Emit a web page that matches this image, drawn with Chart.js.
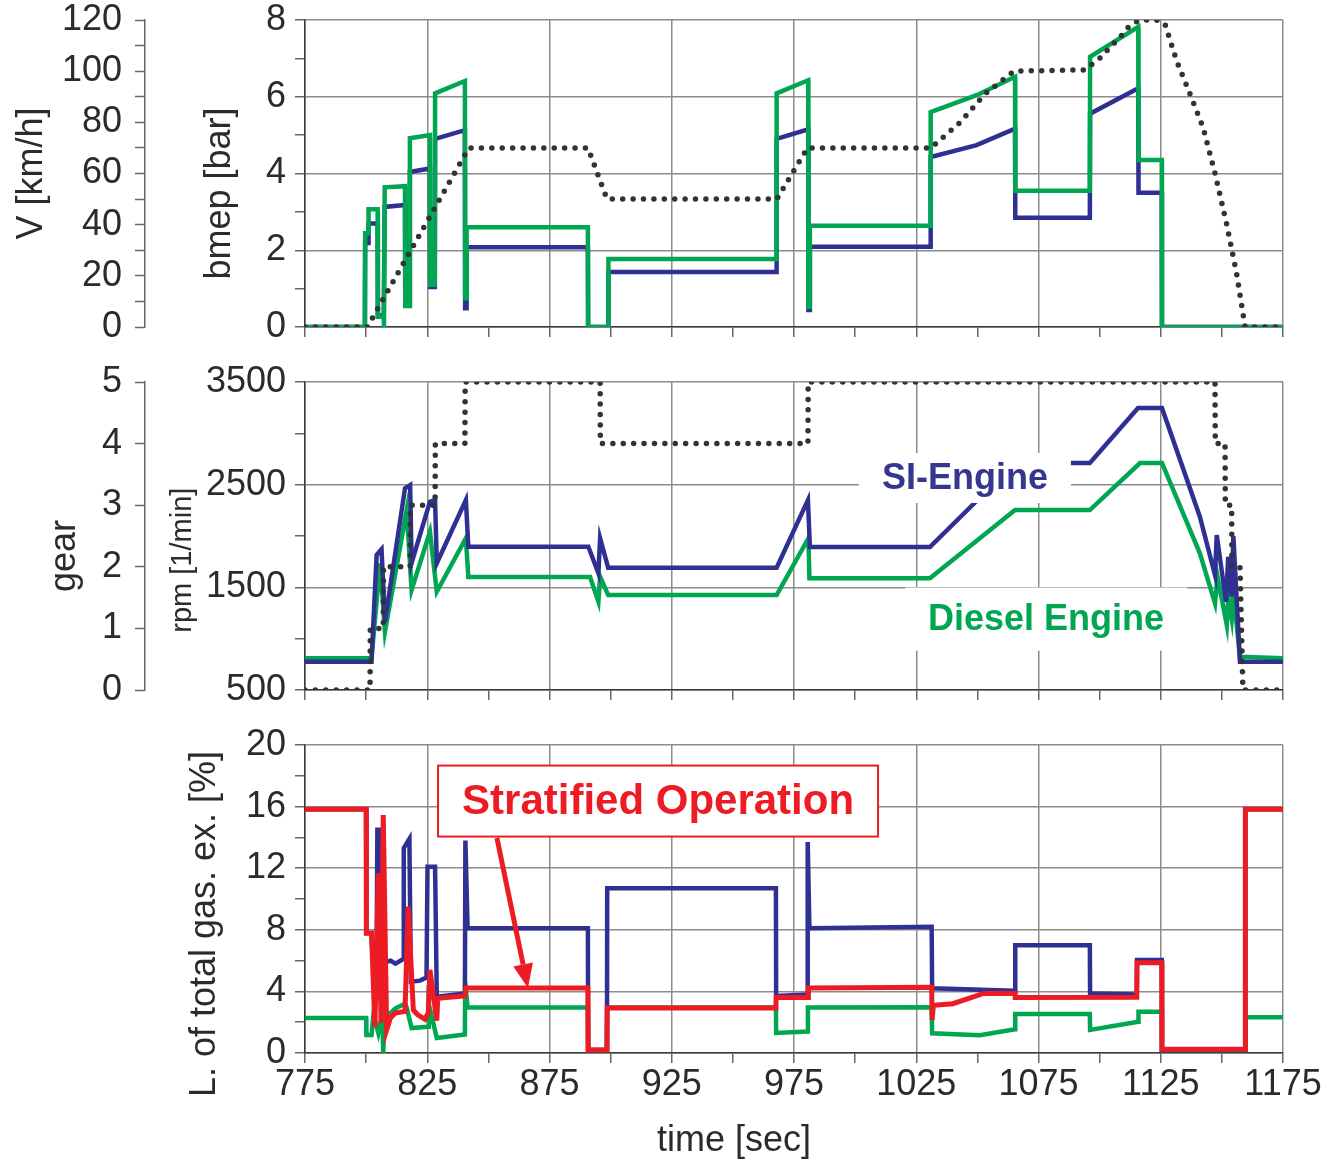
<!DOCTYPE html>
<html>
<head>
<meta charset="utf-8">
<script src="https://cdn.jsdelivr.net/npm/chart.js@4.4.1/dist/chart.umd.min.js"></script>
<style>
  html, body { margin: 0; padding: 0; background: #fff; }
  body { width: 1333px; height: 1163px; position: relative; overflow: hidden; }
  canvas { position: absolute; left: 0; }
</style>
</head>
<body>
<canvas id="panelLoad" width="1333" height="349" style="top:0;width:1333px;height:349px"></canvas>
<canvas id="panelRpm" width="1333" height="363" style="top:349px;width:1333px;height:363px"></canvas>
<canvas id="panelGas" width="1333" height="451" style="top:712px;width:1333px;height:451px"></canvas>
<script>
// ---- tick labels ----
const timeTicks = [775, 825, 875, 925, 975, 1025, 1075, 1125, 1175];
const speedTicks = [0, 20, 40, 60, 80, 100, 120];
const bmepTicks = [0, 2, 4, 6, 8];
const gearTicks = [0, 1, 2, 3, 4, 5];
const rpmTicks = [500, 1500, 2500, 3500];
const gasTicks = [0, 4, 8, 12, 16, 20];

// ---- vehicle speed [km/h] ----
const speedT = [775, 800.5, 842, 890.7, 898.5, 968, 980.5, 1031, 1043, 1053, 1065, 1094, 1100, 1109, 1112.4, 1116.5, 1123.3, 1126.7, 1131.5, 1137, 1142.3, 1147.2, 1152, 1156, 1159.5, 1175];
const speedV = [0, 0, 70, 70, 50, 50, 70, 70, 80, 91, 100, 100.5, 105, 114, 118, 120, 120, 118.5, 104, 91, 78, 60, 40, 21, 0, 0];

// ---- bmep [bar] ----
const bmepT = [775, 799.5, 799.6, 800.9, 801.0, 804.7, 804.8, 807.2, 807.3, 807.6, 815.9, 816.0, 817.8, 817.9, 826.1, 826.2, 828.1, 828.2, 840.4, 840.5, 841.0, 841.1, 890.7, 890.8, 899.0, 899.1, 967.8, 967.9, 980.8, 980.9, 981.4, 981.5, 1030.8, 1030.9, 1049.7, 1065.4, 1065.5, 1096, 1096.1, 1115.8, 1115.9, 1125.4, 1125.5, 1175];
const bmepSI = [0, 0, 2.19, 2.19, 2.7, 2.7, 0.3, 0.3, 0.3, 3.13, 3.18, 0.62, 0.62, 4.04, 4.13, 1.04, 1.04, 4.9, 5.13, 0.49, 0.49, 2.08, 2.08, 0, 0, 1.43, 1.43, 4.9, 5.15, 0.44, 0.44, 2.09, 2.09, 4.43, 4.74, 5.17, 2.85, 2.85, 5.56, 6.22, 3.5, 3.5, 0, 0];
const bmepDiesel = [0, 0, 2.44, 2.44, 3.07, 3.07, 0.27, 0.27, 0, 3.64, 3.67, 0.55, 0.55, 4.92, 5.0, 1.1, 1.1, 6.09, 6.41, 0.75, 0.75, 2.6, 2.6, 0, 0, 1.77, 1.77, 6.09, 6.43, 0.53, 0.53, 2.64, 2.64, 5.6, 6.04, 6.52, 3.55, 3.55, 7.04, 7.82, 4.35, 4.35, 0, 0];

// ---- gear ----
const gearT = [775, 801.6, 801.7, 807, 807.1, 818, 818.1, 828.2, 828.3, 840.4, 840.5, 895.7, 895.8, 980.7, 980.8, 1147.2, 1147.3, 1151.3, 1151.4, 1154, 1154.1, 1157.4, 1158.6, 1175];
const gearV = [0, 0, 1, 1, 2, 2, 3, 3, 4, 4, 5, 5, 4, 4, 5, 5, 4, 4, 3, 3, 2, 2, 0, 0];

// ---- engine speed [1/min] ----
const rpmSIT = [775, 802.2, 804.3, 806.3, 807.7, 815.9, 818, 818.6, 826.1, 828.2, 828.9, 840.8, 841.8, 890.9, 895, 895.7, 899, 967.9, 980.7, 981.5, 1030.6, 1065.4, 1096, 1115.7, 1125.5, 1141, 1147.2, 1147.9, 1151.7, 1152.6, 1154, 1154.7, 1157.4, 1175];
const rpmSI = [775, 775, 1815, 1870, 1165, 2465, 2497, 1737, 2334, 2350, 1734, 2350, 1896, 1896, 1637, 1978, 1691, 1691, 2350, 1893, 1893, 2711, 2711, 3247, 3247, 2188, 1620, 2010, 1360, 1798, 1409, 2000, 776, 776];
const rpmDieselT = [775, 802.2, 805.7, 807.7, 816.6, 818.6, 826.1, 828.9, 840.8, 841.8, 891.6, 895, 895.7, 899, 967.9, 980.9, 981.3, 1030.6, 1065.4, 1096, 1116.5, 1125.5, 1141, 1147.2, 1148.2, 1152, 1152.6, 1154, 1154.7, 1157.4, 1175];
const rpmDiesel = [809, 809, 1734, 1068, 2253, 1474, 2042, 1457, 1978, 1600, 1600, 1360, 1604, 1425, 1425, 1978, 1588, 1588, 2253, 2253, 2711, 2711, 1831, 1344, 1604, 1133, 1400, 1198, 1442, 824, 810];

// ---- share of total gas exchange losses [%] ----
const gasStratT = [775, 800, 800.1, 802.2, 803.6, 805, 806.1, 807, 808.4, 810, 812, 815.9, 817.2, 819.3, 821, 824, 825.4, 826.1, 828.9, 829.3, 840.4, 840.8, 890.7, 890.8, 898.5, 898.6, 967.6, 967.7, 980.8, 980.9, 1031.3, 1031.5, 1032, 1040, 1052.5, 1065.4, 1065.5, 1115.2, 1115.3, 1125.4, 1125.5, 1159.5, 1159.6, 1175];
const gasStrat = [15.82, 15.82, 7.77, 7.77, 1.7, 11.67, 1.95, 15.45, 1.5, 2.3, 2.6, 2.7, 9.5, 2.8, 2.5, 2.2, 2.6, 5.4, 2.1, 3.55, 3.7, 4.22, 4.22, 0.2, 0.2, 2.92, 2.92, 3.6, 3.6, 4.22, 4.27, 2.14, 3.1, 3.2, 3.87, 3.87, 3.6, 3.62, 5.86, 5.86, 0.24, 0.24, 15.82, 15.82];
const gasSIT = [775, 800, 800.1, 802.2, 802.5, 804.3, 804.6, 805.3, 805.6, 808, 810, 812, 815.2, 815.4, 817.7, 818.3, 822, 824.7, 825.1, 828.2, 828.9, 840.4, 840.6, 841.5, 890.7, 890.8, 898.5, 898.6, 967.6, 967.7, 980.5, 980.6, 981.3, 1031.3, 1031.5, 1065.4, 1065.5, 1096, 1096.1, 1115.2, 1115.3, 1125.4, 1125.5, 1159.5, 1159.6, 1175];
const gasSI = [15.82, 15.82, 7.8, 7.8, 6.7, 6.5, 14.5, 14.5, 6.15, 5.9, 6.0, 5.8, 6.1, 13.3, 13.9, 4.63, 4.7, 4.9, 12.1, 12.1, 3.66, 3.87, 13.8, 8.1, 8.1, 0.2, 0.2, 10.7, 10.7, 3.7, 3.8, 13.7, 8.1, 8.2, 4.2, 4.05, 7.0, 7.0, 3.87, 3.8, 6.04, 6.04, 0.2, 0.2, 15.82, 15.82];
const gasDieselT = [775, 800, 800.1, 802.2, 803, 805, 806.6, 807, 807.3, 807.5, 810, 812, 815.9, 816.5, 818.6, 825.4, 825.6, 828.9, 840.4, 840.5, 841.5, 890.7, 890.8, 898.5, 898.6, 967.6, 967.7, 980.6, 980.7, 1031.3, 1031.5, 1051, 1065.4, 1065.5, 1096, 1096.1, 1115.8, 1115.9, 1125.4, 1125.5, 1159.5, 1159.6, 1175];
const gasDiesel = [2.27, 2.27, 1.17, 1.17, 2.5, 1.3, 2.5, 0, 0, 2.3, 2.6, 2.9, 3.2, 3.0, 1.62, 1.7, 3.2, 0.97, 1.2, 4.6, 2.95, 2.95, 0.2, 0.2, 2.95, 2.95, 1.3, 1.4, 2.95, 2.97, 1.28, 1.15, 1.54, 2.53, 2.53, 1.5, 2.03, 2.68, 2.68, 0.2, 0.2, 2.32, 2.32];

const SI_BLUE = '#2e3192';
const DIESEL_GREEN = '#00a651';
const STRAT_RED = '#ed1c24';
const DOTS = '#333333';
const GRID = '#8c8c8c';
const AXIS = '#3a3a3a';
const FONT = '"Liberation Sans", Arial, Helvetica, sans-serif';
const TICK_SIZE = 36;
const NBSP = '\u00a0';

Chart.defaults.font.family = FONT;
Chart.defaults.color = '#2b2b2b';

const pts = (ts, vs) => ts.map((t, i) => ({ x: t, y: vs[i] }));

function line(data, color, width, axis) {
    return { data, borderColor: color, borderWidth: width, pointRadius: 0, tension: 0, yAxisID: axis || 'y' };
}

function dotted(data, axis) {
    return { data, borderColor: DOTS, borderWidth: 5.5, borderDash: [0, 10.4], borderCapStyle: 'round', pointRadius: 0, tension: 0, yAxisID: axis };
}

function timeAxis(showLabels) {
    return {
        type: 'linear', min: 775, max: 1175,
        ticks: {
            stepSize: 25, autoSkip: false, maxRotation: 0, display: showLabels, padding: 0,
            font: { size: TICK_SIZE },
            callback: v => timeTicks.includes(v) ? String(v) : ''
        },
        grid: {
            color: ctx => (ctx.tick && timeTicks.includes(ctx.tick.value)) ? GRID : 'rgba(0,0,0,0)',
            lineWidth: 1.5, tickColor: '#666', tickLength: 10, tickWidth: 1.5
        },
        border: { color: AXIS, width: 1.5 },
        title: {
            display: showLabels, text: 'time [sec]' + NBSP.repeat(12),
            font: { size: 36 }, padding: { top: 0, bottom: 0 }
        },
        afterFit: s => { s.height = showLabels ? 110 : 22; }
    };
}

// the y axes must not push the plot area in: labels may overhang the canvas margin
function fixWidth(w) {
    return s => { s.width = w; s.paddingTop = 0; s.paddingBottom = 0; };
}

function innerAxis(min, max, step, labels, title, titleSize, titlePad) {
    return {
        position: 'left', weight: 0, min, max,
        ticks: {
            stepSize: step, autoSkip: false, padding: 9, font: { size: TICK_SIZE },
            callback: v => labels.includes(v) ? String(v) : ''
        },
        grid: {
            color: ctx => (ctx.tick && labels.includes(ctx.tick.value)) ? GRID : 'rgba(0,0,0,0)',
            lineWidth: 1.5, tickColor: '#666', tickLength: 10, tickWidth: 1.5
        },
        border: { color: AXIS, width: 1.5 },
        title: { display: true, text: title, font: { size: titleSize }, padding: { top: titlePad, bottom: 0 } },
        afterFit: fixWidth(160)
    };
}

function outerAxis(min, max, step, labels, title, titlePad) {
    return {
        position: 'left', weight: 1, min, max,
        ticks: {
            stepSize: step, autoSkip: false, padding: 13, font: { size: TICK_SIZE },
            callback: v => labels.includes(v) ? String(v) : ''
        },
        grid: { drawOnChartArea: false, color: '#666', tickColor: '#666', tickLength: 10, tickWidth: 1.5 },
        border: { color: '#666', width: 1.5 },
        title: { display: true, text: title, font: { size: 36 }, padding: { top: titlePad, bottom: 0 } },
        afterFit: fixWidth(145)
    };
}

// labels, boxes and the arrow drawn in data coordinates
function makeNotes(items) {
    return {
        id: 'notes',
        afterDatasetsDraw(chart) {
            const { ctx, scales } = chart;
            const xs = scales.x, ys = scales.y;
            items.forEach(n => {
                ctx.save();
                if (n.arrow) {
                    const x1 = xs.getPixelForValue(n.from[0]), y1 = ys.getPixelForValue(n.from[1]);
                    const x2 = xs.getPixelForValue(n.to[0]), y2 = ys.getPixelForValue(n.to[1]);
                    const a = Math.atan2(y2 - y1, x2 - x1);
                    const head = 24, half = 10;
                    const bx = x2 - head * Math.cos(a), by = y2 - head * Math.sin(a);
                    ctx.strokeStyle = n.color;
                    ctx.lineWidth = 5;
                    ctx.beginPath();
                    ctx.moveTo(x1, y1);
                    ctx.lineTo(bx, by);
                    ctx.stroke();
                    ctx.fillStyle = n.color;
                    ctx.beginPath();
                    ctx.moveTo(x2, y2);
                    ctx.lineTo(bx + half * Math.sin(a), by - half * Math.cos(a));
                    ctx.lineTo(bx - half * Math.sin(a), by + half * Math.cos(a));
                    ctx.closePath();
                    ctx.fill();
                } else {
                    const cx = xs.getPixelForValue(n.x), cy = ys.getPixelForValue(n.y);
                    ctx.fillStyle = '#fff';
                    ctx.fillRect(cx - n.w / 2, cy - n.h / 2, n.w, n.h);
                    if (n.border) {
                        ctx.strokeStyle = n.border;
                        ctx.lineWidth = 2;
                        ctx.strokeRect(cx - n.w / 2, cy - n.h / 2, n.w, n.h);
                    }
                    ctx.font = `bold ${n.size}px ${FONT}`;
                    ctx.fillStyle = n.color;
                    ctx.textAlign = 'center';
                    ctx.textBaseline = 'middle';
                    ctx.fillText(n.text, cx, cy + 1);
                }
                ctx.restore();
            });
        }
    };
}

const common = {
    responsive: false,
    animation: false,
    events: [],
    plugins: { legend: { display: false }, tooltip: { enabled: false } }
};

// -------- panel 1: bmep and vehicle speed --------
new Chart(document.getElementById('panelLoad'), {
    type: 'line',
    data: {
        datasets: [
            dotted(pts(speedT, speedV), 'yV'),
            line(pts(bmepT, bmepDiesel), DIESEL_GREEN, 4.5),
            line(pts(bmepT, bmepSI), SI_BLUE, 4.5)
        ]
    },
    options: {
        ...common,
        layout: { padding: { left: 0, top: 20, right: 50, bottom: 0 } },
        scales: {
            x: timeAxis(false),
            y: innerAxis(0, 8, 1, bmepTicks, 'bmep [bar]' + NBSP.repeat(4), 36, 53),
            yV: outerAxis(0, 120, 10, speedTicks, 'V [km/h]', 10)
        }
    }
});

// -------- panel 2: engine speed and gear --------
new Chart(document.getElementById('panelRpm'), {
    type: 'line',
    data: {
        datasets: [
            dotted(pts(gearT, gearV), 'yG'),
            line(pts(rpmSIT, rpmSI), SI_BLUE, 4.5),
            line(pts(rpmDieselT, rpmDiesel), DIESEL_GREEN, 4.5)
        ]
    },
    options: {
        ...common,
        layout: { padding: { left: 0, top: 33, right: 50, bottom: 0 } },
        scales: {
            x: timeAxis(false),
            y: innerAxis(500, 3500, 500, rpmTicks, 'rpm [1/min]' + NBSP.repeat(6), 29, 21),
            yG: outerAxis(0, 5, 1, gearTicks, 'gear' + NBSP.repeat(4), 43)
        }
    },
    plugins: [makeNotes([
        { x: 1044.9, y: 2565, text: 'SI-Engine', color: '#35378f', size: 36, w: 212, h: 50 },
        { x: 1078.1, y: 1191, text: 'Diesel Engine', color: DIESEL_GREEN, size: 36, w: 282, h: 63 }
    ])]
});

// -------- panel 3: gas exchange losses --------
new Chart(document.getElementById('panelGas'), {
    type: 'line',
    data: {
        datasets: [
            line(pts(gasStratT, gasStrat), STRAT_RED, 5),
            line(pts(gasSIT, gasSI), SI_BLUE, 4.5),
            line(pts(gasDieselT, gasDiesel), DIESEL_GREEN, 4.5)
        ]
    },
    options: {
        ...common,
        layout: { padding: { left: 145, top: 33, right: 50, bottom: 0 } },
        scales: {
            x: timeAxis(true),
            y: innerAxis(0, 20, 2, gasTicks, 'L. of total gas. ex. [%]' + NBSP.repeat(5), 36, 38)
        }
    },
    plugins: [makeNotes([
        { arrow: true, from: [853.5, 13.96], to: [866.2, 4.22], color: STRAT_RED },
        { x: 919.4, y: 16.36, text: 'Stratified Operation', color: STRAT_RED, size: 42, w: 440, h: 71, border: STRAT_RED }
    ])]
});
</script>
</body>
</html>
